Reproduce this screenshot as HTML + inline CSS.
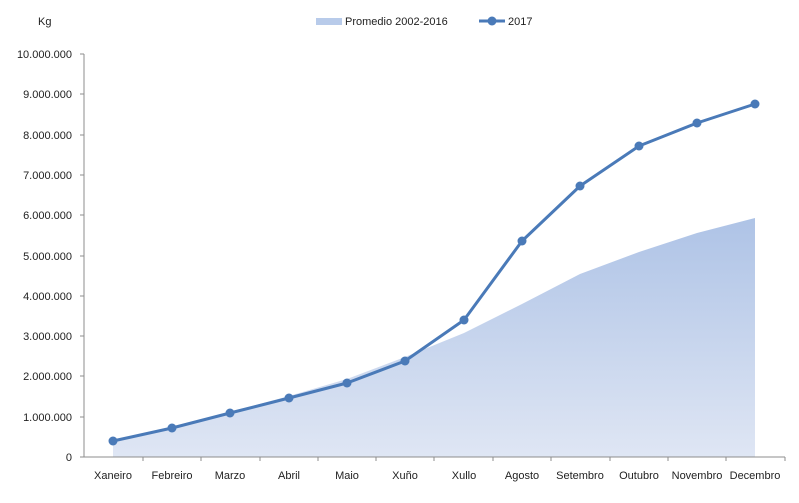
<!DOCTYPE html>
<html><head><meta charset="utf-8"><style>body{margin:0;background:#fff}svg{display:block}text{font-family:"Liberation Sans",sans-serif;font-size:11px;fill:#222}</style></head><body>
<svg width="799" height="503" xmlns="http://www.w3.org/2000/svg">
<defs><linearGradient id="g" x1="0" y1="0" x2="0" y2="1"><stop offset="0" stop-color="#aec3e6"/><stop offset="1" stop-color="#dfe6f4"/></linearGradient>
<linearGradient id="g2" x1="0" y1="0" x2="0" y2="1" gradientUnits="userSpaceOnUse" x2b="0"><stop offset="0" stop-color="#aec3e6"/><stop offset="1" stop-color="#dfe6f4"/></linearGradient></defs>
<polygon fill="url(#g)" points="113,457 113,441 172,428 230,412 289,396 347,379 405,357 464,333 522,304 580,274 639,252 697,233 755,218 755,457"/>
<line x1="84" y1="54" x2="84" y2="457" stroke="#8c8c8c"/>
<line x1="84" y1="457" x2="785" y2="457" stroke="#8c8c8c"/>
<g stroke="#8c8c8c">
<line x1="80" y1="457" x2="84" y2="457"/><line x1="80" y1="417" x2="84" y2="417"/><line x1="80" y1="376" x2="84" y2="376"/><line x1="80" y1="336" x2="84" y2="336"/><line x1="80" y1="296" x2="84" y2="296"/><line x1="80" y1="256" x2="84" y2="256"/><line x1="80" y1="215" x2="84" y2="215"/><line x1="80" y1="175" x2="84" y2="175"/><line x1="80" y1="135" x2="84" y2="135"/><line x1="80" y1="94" x2="84" y2="94"/><line x1="80" y1="54" x2="84" y2="54"/>
<line x1="143" y1="457" x2="143" y2="461"/><line x1="201" y1="457" x2="201" y2="461"/><line x1="260" y1="457" x2="260" y2="461"/><line x1="318" y1="457" x2="318" y2="461"/><line x1="376" y1="457" x2="376" y2="461"/><line x1="434" y1="457" x2="434" y2="461"/><line x1="493" y1="457" x2="493" y2="461"/><line x1="551" y1="457" x2="551" y2="461"/><line x1="610" y1="457" x2="610" y2="461"/><line x1="668" y1="457" x2="668" y2="461"/><line x1="726" y1="457" x2="726" y2="461"/><line x1="785" y1="457" x2="785" y2="461"/>
</g>
<g text-anchor="end">
<text x="72" y="461">0</text><text x="72" y="421">1.000.000</text><text x="72" y="380">2.000.000</text><text x="72" y="340">3.000.000</text><text x="72" y="300">4.000.000</text><text x="72" y="260">5.000.000</text><text x="72" y="219">6.000.000</text><text x="72" y="179">7.000.000</text><text x="72" y="139">8.000.000</text><text x="72" y="98">9.000.000</text><text x="72" y="58">10.000.000</text>
</g>
<text x="38" y="25">Kg</text>
<g text-anchor="middle">
<text x="113" y="479">Xaneiro</text><text x="172" y="479">Febreiro</text><text x="230" y="479">Marzo</text><text x="289" y="479">Abril</text><text x="347" y="479">Maio</text><text x="405" y="479">Xuño</text><text x="464" y="479">Xullo</text><text x="522" y="479">Agosto</text><text x="580" y="479">Setembro</text><text x="639" y="479">Outubro</text><text x="697" y="479">Novembro</text><text x="755" y="479">Decembro</text>
</g>
<polyline fill="none" stroke="#4a7ab8" stroke-width="3" stroke-linejoin="round" points="113,441 172,428 230,413 289,398 347,383 405,361 464,320 522,241 580,186 639,146 697,123 755,104"/>
<g fill="#4a7ab8">
<circle cx="113" cy="441" r="4.5"/><circle cx="172" cy="428" r="4.5"/><circle cx="230" cy="413" r="4.5"/><circle cx="289" cy="398" r="4.5"/><circle cx="347" cy="383" r="4.5"/><circle cx="405" cy="361" r="4.5"/><circle cx="464" cy="320" r="4.5"/><circle cx="522" cy="241" r="4.5"/><circle cx="580" cy="186" r="4.5"/><circle cx="639" cy="146" r="4.5"/><circle cx="697" cy="123" r="4.5"/><circle cx="755" cy="104" r="4.5"/>
</g>
<rect x="316" y="18" width="26" height="7" fill="#b8cbea"/>
<text x="345" y="25">Promedio 2002-2016</text>
<line x1="479" y1="21" x2="505" y2="21" stroke="#4a7ab8" stroke-width="3"/>
<circle cx="492" cy="21" r="4.5" fill="#4a7ab8"/>
<text x="508" y="25">2017</text>
</svg>
</body></html>
